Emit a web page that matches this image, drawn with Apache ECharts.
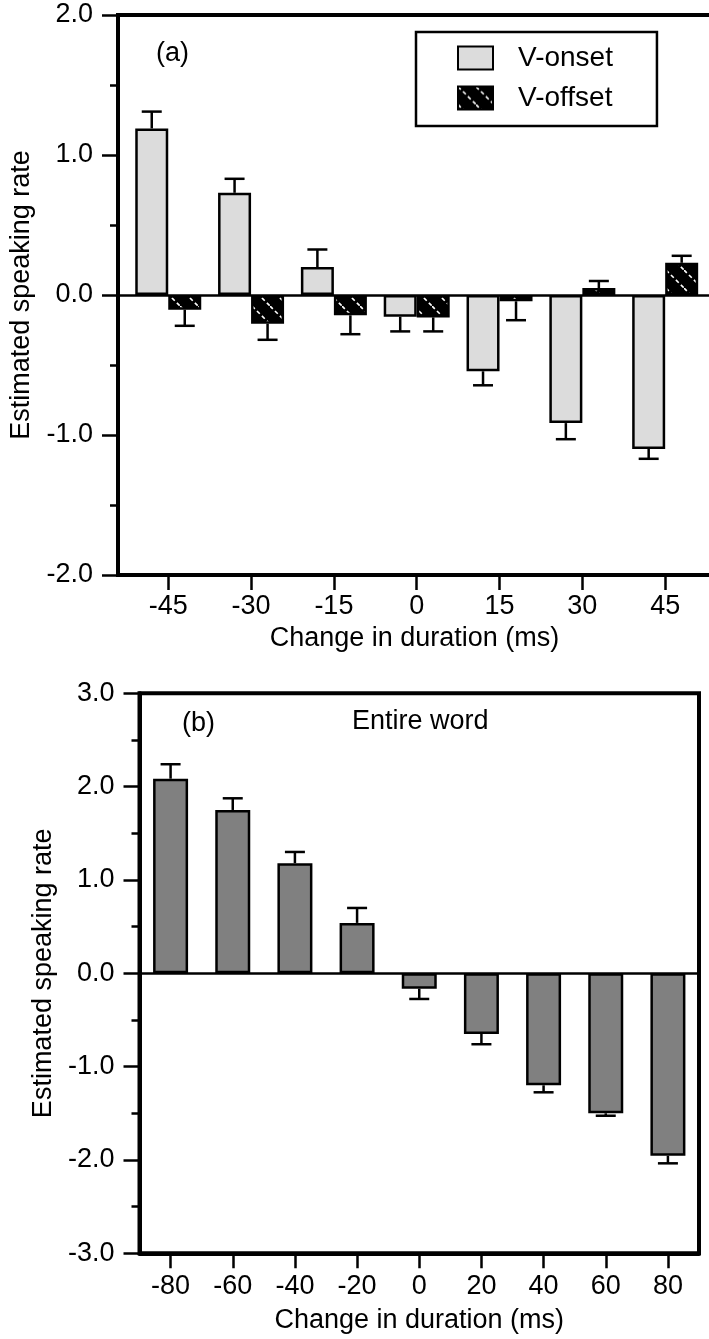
<!DOCTYPE html>
<html>
<head>
<meta charset="utf-8">
<script src="https://cdn.jsdelivr.net/npm/echarts@6/dist/echarts.min.js"></script>
<style>
html,body{margin:0;padding:0;background:#fff;}
#chart{width:709px;height:1339px;}
</style>
</head>
<body>
<div id="chart"></div>
<script>
// ---- Panel (a) data ----
const topCategories = [-45, -30, -15, 0, 15, 30, 45];
const onsetValues  = [1.19, 0.73, 0.20, -0.155, -0.545, -0.915, -1.10];
const onsetErrEnd  = [1.31, 0.83, 0.325, -0.26, -0.645, -1.03, -1.17];
const offsetValues = [-0.105, -0.205, -0.145, -0.16, -0.045, 0.05, 0.23];
const offsetErrEnd = [-0.22, -0.32, -0.28, -0.26, -0.18, 0.10, 0.28];
const topYTicks = [-2, -1, 0, 1, 2];

// ---- Panel (b) data ----
const botCategories = ['-80', '-60', '-40', '-20', '0', '20', '40', '60', '80'];
const wordValues = [2.085, 1.75, 1.18, 0.54, -0.165, -0.65, -1.20, -1.50, -1.955];
const wordErrEnd = [2.24, 1.875, 1.30, 0.70, -0.275, -0.76, -1.275, -1.526, -2.036];
const botYTicks = [-3, -2, -1, 0, 1, 2, 3];

const FONT = "'Liberation Sans', Arial, Helvetica, sans-serif";
const FS = 27;

function hatchPattern() {
  const s = 18;
  const c = document.createElement('canvas');
  c.width = s; c.height = s;
  const g = c.getContext('2d');
  g.fillStyle = '#000';
  g.fillRect(0, 0, s, s);
  g.strokeStyle = '#fff';
  g.lineWidth = 1.6;
  g.setLineDash([4, 3]);
  g.beginPath();
  g.moveTo(0, 0);
  g.lineTo(s, s);
  g.stroke();
  return c;
}
const hatch = { image: hatchPattern(), repeat: 'repeat' };

function errRenderer(dx, cap) {
  return function (params, api) {
    const x = api.value(0), v = api.value(1), e = api.value(2);
    const a = api.coord([x, v]);
    const b = api.coord([x, e]);
    const cx = a[0] + dx;
    return {
      type: 'group',
      children: [
        { type: 'line', shape: { x1: cx, y1: a[1], x2: cx, y2: b[1] }, style: { stroke: '#000', lineWidth: 2.5 } },
        { type: 'line', shape: { x1: cx - cap, y1: b[1], x2: cx + cap, y2: b[1] }, style: { stroke: '#000', lineWidth: 2.5 } }
      ]
    };
  };
}

const axisText = { color: '#000', fontSize: FS, fontFamily: FONT };
const lineBlack = { color: '#000', width: 4 };

const chart = echarts.init(document.getElementById('chart'), null, { renderer: 'canvas' });

const option = {
  animation: false,
  backgroundColor: '#fff',
  textStyle: { fontFamily: FONT, color: '#000' },
  grid: [
    { left: 118, right: -2, top: 15, bottom: 1339 - 575, show: true, borderColor: '#000', borderWidth: 4, backgroundColor: 'transparent', outerBoundsMode: 'none', containLabel: false },
    { left: 139.5, right: 10, top: 693.3, bottom: 1339 - 1253.3, show: true, borderColor: '#000', borderWidth: 4, backgroundColor: 'transparent', outerBoundsMode: 'none', containLabel: false }
  ],
  xAxis: [
    {
      gridIndex: 0, type: 'value', min: -54.1, max: 53.3,
      axisLine: { show: true, onZero: false, lineStyle: lineBlack },
      axisTick: { show: true, length: 15, lineStyle: { color: '#000', width: 2.5 }, customValues: topCategories },
      axisLabel: { ...axisText, margin: 18, customValues: topCategories },
      splitLine: { show: false },
      name: 'Change in duration (ms)', nameLocation: 'middle', nameGap: 50,
      nameTextStyle: axisText
    },
    {
      gridIndex: 1, type: 'category', data: botCategories, boundaryGap: true,
      axisLine: { show: true, onZero: false, lineStyle: lineBlack },
      axisTick: { show: true, alignWithLabel: true, length: 15, lineStyle: { color: '#000', width: 2.5 } },
      axisLabel: { ...axisText, margin: 20, interval: 0 },
      splitLine: { show: false },
      name: 'Change in duration (ms)', nameLocation: 'middle', nameGap: 54,
      nameTextStyle: axisText
    }
  ],
  yAxis: [
    {
      gridIndex: 0, type: 'value', min: topYTicks[0], max: topYTicks[topYTicks.length - 1], interval: 1,
      axisLine: { show: true, onZero: false, lineStyle: lineBlack },
      axisTick: { show: true, length: 16, lineStyle: { color: '#000', width: 2.5 } },
      minorTick: { show: true, splitNumber: 2, length: 8, lineStyle: { color: '#000', width: 2.5 } },
      axisLabel: { ...axisText, margin: 25, formatter: v => v.toFixed(1) },
      splitLine: { show: false },
      name: 'Estimated speaking rate', nameLocation: 'middle', nameGap: 83, nameRotate: 90,
      nameTextStyle: axisText
    },
    {
      gridIndex: 1, type: 'value', min: botYTicks[0], max: botYTicks[botYTicks.length - 1], interval: 1,
      axisLine: { show: true, onZero: false, lineStyle: lineBlack },
      axisTick: { show: true, length: 16, lineStyle: { color: '#000', width: 2.5 } },
      minorTick: { show: true, splitNumber: 2, length: 8, lineStyle: { color: '#000', width: 2.5 } },
      axisLabel: { ...axisText, margin: 25, formatter: v => v.toFixed(1) },
      splitLine: { show: false },
      name: 'Estimated speaking rate', nameLocation: 'middle', nameGap: 80, nameRotate: 90,
      nameTextStyle: axisText
    }
  ],
  legend: {
    data: ['V-onset', 'V-offset'],
    orient: 'vertical',
    left: 416, top: 32,
    padding: [12, 44, 14, 41],
    itemWidth: 35, itemHeight: 23, itemGap: 12,
    borderColor: '#000', borderWidth: 2.5,
    icon: 'rect',
    textStyle: { color: '#000', fontSize: 28, fontFamily: FONT, lineHeight: 26, padding: [0, 0, 0, 20] },
    selectedMode: false
  },
  graphic: [
    { type: 'text', left: 156, top: 40, style: { text: '(a)', fontSize: FS, fontFamily: FONT, fill: '#000' } },
    { type: 'text', left: 182, top: 710, style: { text: '(b)', fontSize: FS, fontFamily: FONT, fill: '#000' } },
    { type: 'text', left: 352, top: 708, style: { text: 'Entire word', fontSize: FS, fontFamily: FONT, fill: '#000' } }
  ],
  series: [
    {
      name: 'V-onset', type: 'bar', xAxisIndex: 0, yAxisIndex: 0,
      data: topCategories.map((x, i) => [x, onsetValues[i]]),
      barWidth: 33, barGap: '0%',
      itemStyle: { color: '#dcdcdc', borderColor: '#000', borderWidth: 2.5 },
      markLine: {
        silent: true, symbol: 'none', label: { show: false },
        lineStyle: { color: '#000', width: 2.5, type: 'solid' },
        data: [{ yAxis: 0 }]
      }
    },
    {
      name: 'V-offset', type: 'bar', xAxisIndex: 0, yAxisIndex: 0,
      data: topCategories.map((x, i) => [x, offsetValues[i]]),
      barWidth: 33, barGap: '0%',
      itemStyle: { color: hatch, borderColor: '#000', borderWidth: 2.5 }
    },
    {
      type: 'custom', xAxisIndex: 0, yAxisIndex: 0, z: 5,
      data: topCategories.map((x, i) => [x, onsetValues[i], onsetErrEnd[i]]),
      encode: { x: 0, y: [1, 2] },
      renderItem: errRenderer(-16.5, 10)
    },
    {
      type: 'custom', xAxisIndex: 0, yAxisIndex: 0, z: 5,
      data: topCategories.map((x, i) => [x, offsetValues[i], offsetErrEnd[i]]),
      encode: { x: 0, y: [1, 2] },
      renderItem: errRenderer(16.5, 10)
    },
    {
      name: 'Entire word', type: 'bar', xAxisIndex: 1, yAxisIndex: 1,
      data: wordValues,
      barWidth: 35,
      itemStyle: { color: '#808080', borderColor: '#000', borderWidth: 2.5 },
      markLine: {
        silent: true, symbol: 'none', label: { show: false },
        lineStyle: { color: '#000', width: 2.5, type: 'solid' },
        data: [{ yAxis: 0 }]
      }
    },
    {
      type: 'custom', xAxisIndex: 1, yAxisIndex: 1, z: 5,
      data: botCategories.map((c, i) => [i, wordValues[i], wordErrEnd[i]]),
      encode: { x: 0, y: [1, 2] },
      renderItem: errRenderer(0, 10)
    }
  ]
};
chart.setOption(option);
</script>
</body>
</html>
